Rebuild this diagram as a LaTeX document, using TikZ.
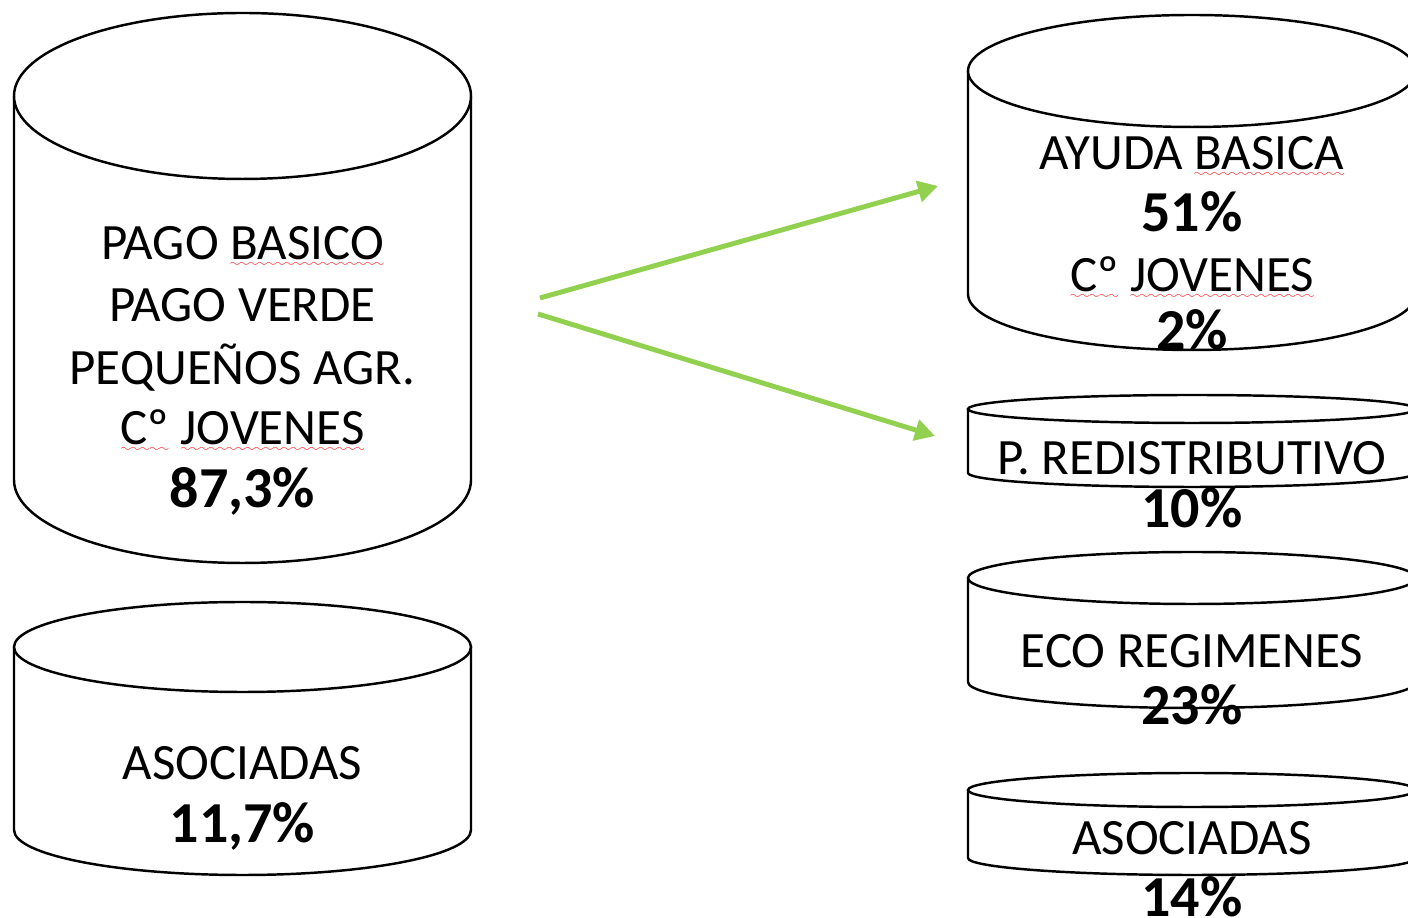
\documentclass[tikz,border=0pt]{standalone}
\usepackage{fontspec}
\setmainfont{Carlito}
\usetikzlibrary{arrows.meta}

% red wavy line of the spell checker
\font\sixly=lasy6
\newsavebox{\spellbox}
\newcommand{\spellwave}[1]{\sbox{\spellbox}{#1}\rlap{\color{red}\lower3.5pt\hbox to \wd\spellbox{\xleaders\hbox{\sixly\char58}\hfill}}\usebox{\spellbox}}

% can: centre x, top y, bottom y, x radius, y radius
\newcommand{\drawcan}[5]{%
\draw[can] ({#1-#4},#2) -- ({#1-#4},#3) arc[start angle=180, end angle=360, x radius=#4, y radius=#5] -- ({#1+#4},#2);
\draw[can] (#1,#2) ellipse [x radius=#4, y radius=#5];
}

\tikzset{
can/.style = {draw = black, fill = white, line width = 1.4pt},
txt/.style = {anchor = base, inner sep = 0pt, font = \fontsize{29}{35}\selectfont},
pct/.style = {txt, font = \fontsize{33}{35}\selectfont\bfseries},
flecha/.style = {draw = arrowgreen, line width = 2.8pt, -{Triangle[length = 0.4cm, width = 0.42cm]}}
}

\begin{document}
\begin{tikzpicture}[x = 0.02cm, y = 0.02cm]
\definecolor{arrowgreen}{RGB}{146,208,80}
\clip (0,0) rectangle (1408,918);
\fill[white] (0,0) rectangle (1408,918);

% left side
\drawcan{242.5}{822}{438}{228.5}{83}
\drawcan{242.5}{271}{88}{228.5}{45}
% right side
\foreach \yt/\yb/\ry in {847/624/56, 509/445/14, 340/236/26, 128/60/17}{
  \drawcan{1192}{\yt}{\yb}{224}{\ry}
}

\node[txt] (pagobasico) at (242.5,658) {PAGO \spellwave{BASICO}};
\node[txt] (pagoverde) at (242.5,596) {PAGO VERDE};
\node[txt] (pequenos) at (242.5,533) {PEQUEÑOS AGR.};
\node[txt] (jovenesizq) at (242.5,473) {\spellwave{Cº} \spellwave{JOVENES}};
\node[pct] (totalizq) at (242.5,410) {87,3\%};
\node[txt] (asocizq) at (242.5,138) {ASOCIADAS};
\node[pct] (asocizqpct) at (242.5,75) {11,7\%};

\node[txt] (ayuda) at (1192,748) {AYUDA \spellwave{BASICA}};
\node[pct] (ayudapct) at (1192,686) {51\%};
\node[txt] (jovenesder) at (1192,626) {\spellwave{Cº} \spellwave{JOVENES}};
\node[pct] (jovenespct) at (1192,568) {2\%};
\node[txt] (redis) at (1192,443) {P. REDISTRIBUTIVO};
\node[pct] (redispct) at (1192,390) {10\%};
\node[txt] (eco) at (1192,250) {ECO REGIMENES};
\node[pct] (ecopct) at (1192,193) {23\%};
\node[txt] (asocder) at (1192,63) {ASOCIADAS};
\node[pct] (asocderpct) at (1192,1) {14\%};

\coordinate (salida1) at (540,620);
\coordinate (llegada1) at (938,732);
\coordinate (salida2) at (538,604);
\coordinate (llegada2) at (935,482);
\draw[flecha] (salida1) -- (llegada1);
\draw[flecha] (salida2) -- (llegada2);
\end{tikzpicture}
\end{document}
